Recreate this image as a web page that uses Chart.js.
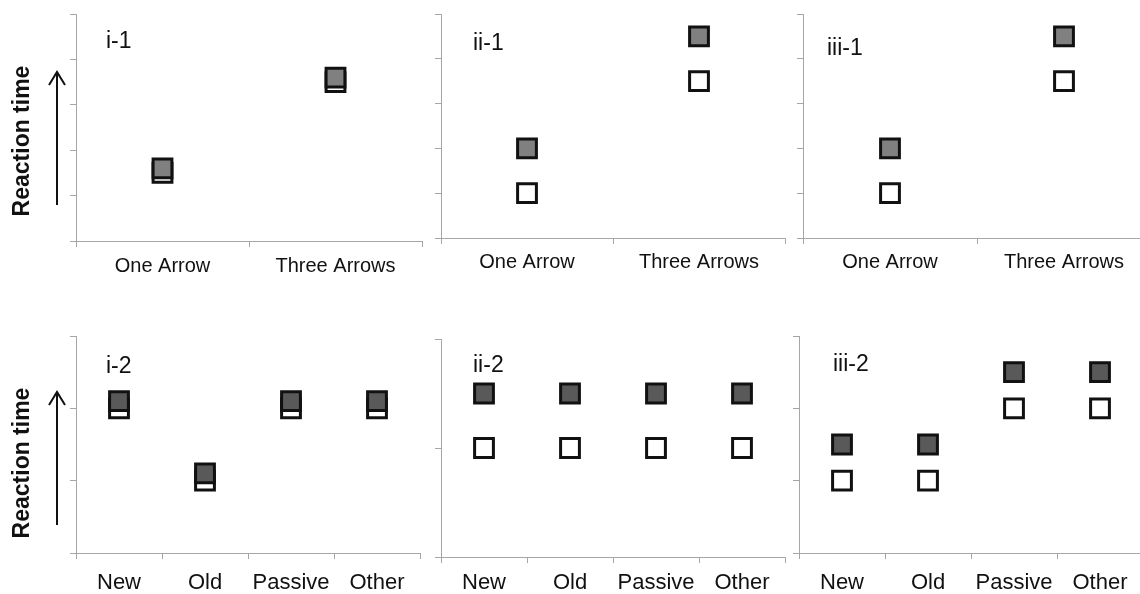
<!DOCTYPE html>
<html>
<head>
<meta charset="utf-8">
<script src="https://cdn.jsdelivr.net/npm/chart.js@4.4.1/dist/chart.umd.min.js"></script>
<style>
  html, body { margin: 0; padding: 0; background: #fff; width: 1140px; height: 594px; overflow: hidden; position: relative; }
  canvas { position: absolute; }
</style>
</head>
<body>
<canvas id="c_i1"></canvas>
<canvas id="c_ii1"></canvas>
<canvas id="c_iii1"></canvas>
<canvas id="c_i2"></canvas>
<canvas id="c_ii2"></canvas>
<canvas id="c_iii2"></canvas>
<script>
// ---- data ----
const topCategories = ['One Arrow', 'Three Arrows'];
const bottomCategories = ['New', 'Old', 'Passive', 'Other'];

const i1Gray = [1.6, 3.6];
const i1White = [1.5, 3.5];
const ii1Gray = [2, 4.5];
const ii1White = [1, 3.5];
const iii1Gray = [2, 4.5];
const iii1White = [1, 3.5];

const i2Gray = [2.1, 1.1, 2.1, 2.1];
const i2White = [2.0, 1.0, 2.0, 2.0];
const ii2Gray = [1.5, 1.5, 1.5, 1.5];
const ii2White = [1, 1, 1, 1];
const iii2Gray = [1.5, 1.5, 2.5, 2.5];
const iii2White = [1, 1, 2, 2];

const panelLabels = ['i-1', 'ii-1', 'iii-1', 'i-2', 'ii-2', 'iii-2'];
const yAxisTitle = 'Reaction time';

// ---- drawing helpers ----
const FONT = '"Liberation Sans", Arial, sans-serif';
const AXIS_COLOR = '#a6a6a6';
const PT_R = 13.3;

const panelText = {
  id: 'panelText',
  afterDraw(chart, args, opts) {
    const ctx = chart.ctx;
    ctx.save();
    ctx.fillStyle = '#111';
    ctx.font = '23px ' + FONT;
    ctx.textAlign = 'left';
    ctx.textBaseline = 'alphabetic';
    ctx.fillText(opts.label, opts.lx - opts.ox, opts.ly - opts.oy);
    if (opts.side) {
      const s = opts.side;
      ctx.save();
      ctx.translate(s.tx - opts.ox, s.ty - opts.oy);
      ctx.rotate(-Math.PI / 2);
      ctx.font = 'bold 23px ' + FONT;
      ctx.textAlign = 'center';
      ctx.textBaseline = 'middle';
      ctx.fillText(yAxisTitle, 0, 0);
      ctx.restore();
      const ax = s.ax - opts.ox;
      const top = s.atop - opts.oy, bot = s.abot - opts.oy;
      ctx.strokeStyle = '#111';
      ctx.lineWidth = 2;
      ctx.beginPath();
      ctx.moveTo(ax, bot);
      ctx.lineTo(ax, top);
      ctx.moveTo(ax - 8, top + 13);
      ctx.lineTo(ax, top);
      ctx.lineTo(ax + 8, top + 13);
      ctx.stroke();
    }
    ctx.restore();
  }
};

function makePanel(id, cfg) {
  const cv = document.getElementById(id);
  cv.width = cfg.cw; cv.height = cfg.ch;
  cv.style.left = cfg.cx + 'px'; cv.style.top = cfg.cy + 'px';
  cv.style.width = cfg.cw + 'px'; cv.style.height = cfg.ch + 'px';
  new Chart(cv, {
    type: 'line',
    data: {
      labels: cfg.labels,
      datasets: [
        {
          data: cfg.gray, showLine: false, order: 0,
          pointStyle: 'rect', pointRadius: PT_R, pointHoverRadius: PT_R,
          pointBackgroundColor: cfg.grayColor, pointBorderColor: '#111',
          pointBorderWidth: 3, clip: false
        },
        {
          data: cfg.white, showLine: false, order: 1,
          pointStyle: 'rect', pointRadius: PT_R, pointHoverRadius: PT_R,
          pointBackgroundColor: '#ffffff', pointBorderColor: '#111',
          pointBorderWidth: 3, clip: false
        }
      ]
    },
    options: {
      responsive: false,
      animation: false,
      events: [],
      layout: { autoPadding: false, padding: { left: 0, top: cfg.padT, right: cfg.padR, bottom: 0 } },
      plugins: {
        legend: { display: false },
        tooltip: { enabled: false },
        panelText: {
          label: cfg.label, lx: cfg.lx, ly: cfg.ly, ox: cfg.cx, oy: cfg.cy, side: cfg.side
        }
      },
      scales: {
        x: {
          type: 'category',
          offset: true,
          grid: { offset: true, drawOnChartArea: false, drawTicks: true, tickLength: 6, color: AXIS_COLOR, lineWidth: 1 },
          border: { color: AXIS_COLOR, width: 1 },
          ticks: { color: '#111', font: { family: FONT, size: cfg.xFont }, padding: cfg.xPad, maxRotation: 0, autoSkip: false },
          afterFit: s => { s.height = cfg.xH; }
        },
        y: {
          min: 0, max: cfg.ymax,
          grid: { drawOnChartArea: false, drawTicks: true, tickLength: 6, color: AXIS_COLOR, lineWidth: 1 },
          border: { color: AXIS_COLOR, width: 1 },
          ticks: { display: false, stepSize: 1 },
          afterFit: s => { s.width = cfg.yW; }
        }
      }
    },
    plugins: [panelText]
  });
}

makePanel('c_i1', {
  cx: 0, cy: 0, cw: 430, ch: 300, yW: 76, padR: 8, padT: 14, xH: 59, ymax: 5,
  labels: topCategories, gray: i1Gray, white: i1White, grayColor: '#808080',
  xFont: 20, xPad: 7, label: panelLabels[0], lx: 106, ly: 48,
  side: { tx: 23, ty: 141, ax: 57, atop: 72, abot: 205 }
});
makePanel('c_ii1', {
  cx: 430, cy: 0, cw: 365, ch: 300, yW: 11, padR: 10, padT: 14, xH: 62, ymax: 5,
  labels: topCategories, gray: ii1Gray, white: ii1White, grayColor: '#808080',
  xFont: 20, xPad: 6, label: panelLabels[1], lx: 473, ly: 50
});
makePanel('c_iii1', {
  cx: 790, cy: 0, cw: 370, ch: 300, yW: 13, padR: 9, padT: 14, xH: 62, ymax: 5,
  labels: topCategories, gray: iii1Gray, white: iii1White, grayColor: '#808080',
  xFont: 20, xPad: 6, label: panelLabels[2], lx: 827, ly: 55
});
makePanel('c_i2', {
  cx: 0, cy: 300, cw: 430, ch: 294, yW: 76, padR: 10, padT: 36, xH: 41, ymax: 3,
  labels: bottomCategories, gray: i2Gray, white: i2White, grayColor: '#595959',
  xFont: 22, xPad: 11, label: panelLabels[3], lx: 106, ly: 373,
  side: { tx: 23, ty: 463, ax: 57, atop: 392, abot: 525 }
});
makePanel('c_ii2', {
  cx: 430, cy: 300, cw: 365, ch: 294, yW: 11, padR: 10, padT: 39, xH: 37, ymax: 2,
  labels: bottomCategories, gray: ii2Gray, white: ii2White, grayColor: '#595959',
  xFont: 22, xPad: 7, label: panelLabels[4], lx: 473, ly: 372
});
makePanel('c_iii2', {
  cx: 790, cy: 300, cw: 370, ch: 294, yW: 9, padR: 17, padT: 36, xH: 41, ymax: 3,
  labels: bottomCategories, gray: iii2Gray, white: iii2White, grayColor: '#595959',
  xFont: 22, xPad: 11, label: panelLabels[5], lx: 833, ly: 371
});
</script>
</body>
</html>
